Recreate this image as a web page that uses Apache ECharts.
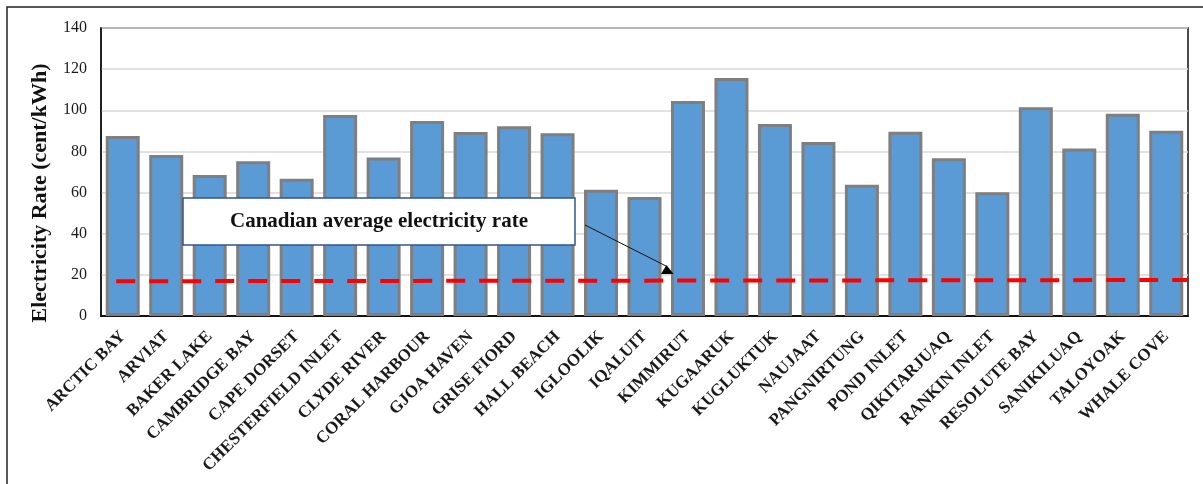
<!DOCTYPE html>
<html>
<head>
<meta charset="utf-8">
<script src="https://cdn.jsdelivr.net/npm/echarts@6/dist/echarts.min.js"></script>
<style>
  html, body { margin: 0; padding: 0; background: #ffffff; }
  #chart { width: 1203px; height: 484px; }
</style>
</head>
<body>
<div id="chart"></div>
<script>
// Nunavut communities and their residential electricity rates (cent/kWh)
const communities = [
  'ARCTIC BAY', 'ARVIAT', 'BAKER LAKE', 'CAMBRIDGE BAY', 'CAPE DORSET',
  'CHESTERFIELD INLET', 'CLYDE RIVER', 'CORAL HARBOUR', 'GJOA HAVEN', 'GRISE FIORD',
  'HALL BEACH', 'IGLOOLIK', 'IQALUIT', 'KIMMIRUT', 'KUGAARUK',
  'KUGLUKTUK', 'NAUJAAT', 'PANGNIRTUNG', 'POND INLET', 'QIKITARJUAQ',
  'RANKIN INLET', 'RESOLUTE BAY', 'SANIKILUAQ', 'TALOYOAK', 'WHALE COVE'
];
const rates = [
  87.5, 78.3, 68.6, 75.2, 66.7,
  97.7, 77.1, 94.8, 89.4, 92.2,
  88.8, 61.4, 57.8, 104.5, 115.7,
  93.3, 84.6, 63.8, 89.6, 76.7,
  60.2, 101.5, 81.4, 98.3, 90.1
];
// Canadian average rate reference line: [position along the category span, rate]
const canadianAverage = [[0.35, 16.9], [25, 17.5]];
const yTicks = { min: 0, max: 140, step: 20 };

const serif = "'Liberation Serif', 'Times New Roman', serif";
const chart = echarts.init(document.getElementById('chart'), null, { renderer: 'canvas' });

chart.setOption({
  animation: false,
  backgroundColor: '#ffffff',
  grid: {
    left: 101, right: 15, top: 28, bottom: 168,
    show: true, borderColor: '#111111', borderWidth: 1.5, backgroundColor: 'transparent'
  },
  xAxis: [
    {
      type: 'category',
      data: communities,
      boundaryGap: true,
      axisTick: { show: false },
      axisLine: { show: true, lineStyle: { color: '#111111', width: 2 } },
      axisLabel: {
        interval: 0, rotate: 45, margin: 18,
        fontFamily: serif, fontWeight: 'bold', fontSize: 17, color: '#1a1a1a'
      },
      splitLine: { show: false }
    },
    {
      type: 'value', min: 0, max: communities.length, show: false,
      splitLine: { show: false }
    }
  ],
  yAxis: {
    type: 'value',
    min: yTicks.min, max: yTicks.max, interval: yTicks.step,
    axisLine: { show: true, lineStyle: { color: '#111111', width: 1.5 } },
    axisTick: { show: false },
    axisLabel: { fontFamily: serif, fontSize: 16, color: '#1a1a1a', margin: 14 },
    splitLine: { show: true, lineStyle: { color: '#d9d9d9', width: 1.5 } }
  },
  series: [
    {
      type: 'bar',
      data: rates,
      barWidth: 34,
      itemStyle: { color: '#5b9bd5', borderColor: '#7f7f7f', borderWidth: 3 },
      z: 2
    },
    {
      type: 'line',
      xAxisIndex: 1,
      data: canadianAverage,
      symbol: 'none',
      lineStyle: { color: '#ff0000', width: 4, type: [19, 14] },
      z: 5
    }
  ],
  graphic: [
    {
      type: 'rect', silent: true, z: 0,
      shape: { x: 7, y: 7, width: 1210, height: 500 },
      style: { fill: 'none', stroke: '#222222', lineWidth: 1.5 }
    },
    {
      type: 'text', silent: true, z: 10,
      x: 40, y: 193, rotation: Math.PI / 2,
      style: {
        text: 'Electricity Rate (cent/kWh)',
        font: 'bold 22px ' + serif, fill: '#111111',
        align: 'center', verticalAlign: 'middle'
      }
    },
    {
      type: 'rect', silent: true, z: 10,
      shape: { x: 183, y: 198, width: 392, height: 47 },
      style: { fill: '#ffffff', stroke: '#2f5597', lineWidth: 1.5 }
    },
    {
      type: 'text', silent: true, z: 11,
      x: 379, y: 222,
      style: {
        text: 'Canadian average electricity rate',
        font: 'bold 21px ' + serif, fill: '#111111',
        align: 'center', verticalAlign: 'middle'
      }
    },
    {
      type: 'line', silent: true, z: 10,
      shape: { x1: 585, y1: 225, x2: 666, y2: 266 },
      style: { stroke: '#111111', lineWidth: 1 }
    },
    {
      type: 'polygon', silent: true, z: 10,
      shape: { points: [[666.5, 265], [661, 274], [673.5, 274]] },
      style: { fill: '#000000' }
    }
  ]
});
</script>
</body>
</html>
